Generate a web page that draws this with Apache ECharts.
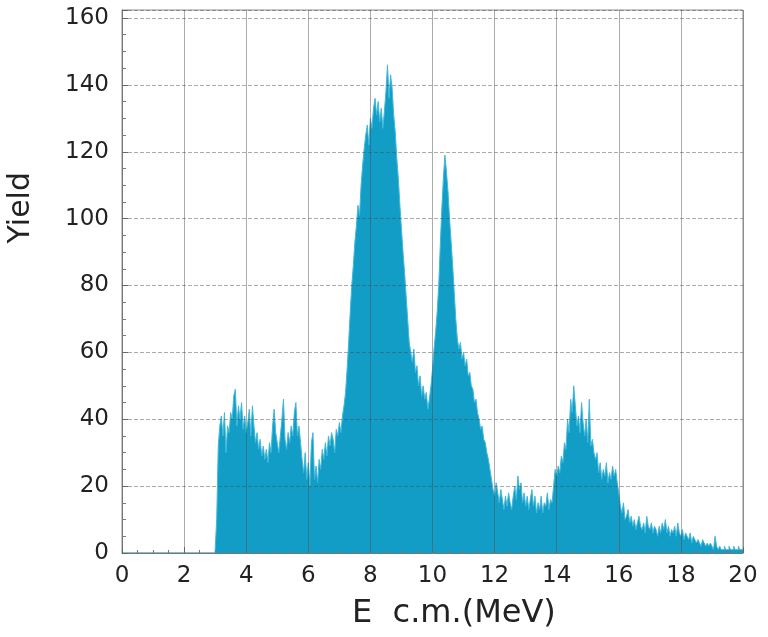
<!DOCTYPE html>
<html>
<head>
<meta charset="utf-8">
<script src="https://cdn.jsdelivr.net/npm/echarts@6/dist/echarts.min.js"></script>
<style>
  html, body { margin: 0; padding: 0; background: #ffffff; }
  #chart { width: 768px; height: 637px; }
</style>
</head>
<body>
<div id="chart"></div>
<script>
// Energy spectrum, 0.05 MeV bins from 0 to 20 MeV (400 bins).
const BIN_WIDTH = 0.05;
const X_MIN = 0, X_MAX = 20;
const xTicks = [0, 2, 4, 6, 8, 10, 12, 14, 16, 18, 20];
const yTicks = [0, 20, 40, 60, 80, 100, 120, 140, 160];

// Counts per bin, grouped by 1 MeV (20 bins per row)
const counts0to3 = [
  0,0,0,0,0,0,0,0,0,0, 0,0,0,0,0,0,0,0,0,0,
  0,0,0,0,0,0,0,0,0,0, 0,0,0,0,0,0,0,0,0,0,
  0,0,0,0,0,0,0,0,0,0, 0,0,0,0,0,0,0,0,0,0
];
const counts3to4 = [1,10,32,38,41,35,42,30,38,36, 42,40,47,49,38,44,40,45,37,41];
const counts4to5 = [36,39,43,35,44,38,33,36,31,34, 29,32,28,31,27,33,30,38,43,36];
const counts5to6 = [33,30,35,40,46,34,31,36,33,38, 35,42,45,35,38,33,28,24,30,22];
const counts6to7 = [27,20,33,36,22,26,21,28,25,31, 28,33,29,35,32,36,34,30,37,35];
const counts7to8 = [39,36,41,44,48,55,63,72,80,86, 93,98,104,101,110,116,121,125,128,122];
const counts8to9 = [130,127,133,136,131,135,129,133,127,132, 138,146,136,143,139,131,126,118,112,104];
const counts9to10 = [97,90,84,77,70,63,60,57,61,54, 56,50,53,47,50,46,48,43,46,50];
const counts10to11 = [55,61,66,72,80,92,103,112,119,114, 108,100,93,86,78,70,64,61,63,58];
const counts11to12 = [60,56,58,53,54,50,49,45,46,42, 40,37,38,34,33,30,28,25,22,19];
const counts12to13 = [17,21,18,15,19,16,13,17,14,18, 15,13,17,20,16,23,19,21,15,18];
const counts13to14 = [14,17,13,16,19,14,17,12,15,13, 17,12,15,14,18,13,16,15,20,25];
const counts14to15 = [23,26,24,29,27,33,31,40,36,46, 42,50,44,38,41,36,45,39,35,40];
const counts15to16 = [33,46,32,34,30,28,30,24,27,22, 25,23,27,21,24,22,26,23,25,21];
const counts16to17 = [18,14,12,15,10,11,13,9,11,8, 10,7,9,11,8,7,9,6,11,8];
const counts17to18 = [7,9,6,8,7,5,8,6,9,7, 10,6,8,5,7,6,8,5,9,6];
const counts18to19 = [5,7,4,6,5,4,6,3,5,4, 3,4,3,2,4,3,2,3,2,3];
const counts19to20 = [2,1,5,2,1,2,1,1,2,1, 1,2,1,1,2,1,1,2,1,1];

const counts = [].concat(
  counts0to3, counts3to4, counts4to5, counts5to6, counts6to7,
  counts7to8, counts8to9, counts9to10, counts10to11, counts11to12,
  counts12to13, counts13to14, counts14to15, counts15to16, counts16to17,
  counts17to18, counts18to19, counts19to20
);

// Step outline: each bin starts at its left edge and holds until the next edge
const stepData = counts.map((c, i) => [+(i * BIN_WIDTH).toFixed(2), c]);
stepData.push([X_MAX, counts[counts.length - 1]]);

const chart = echarts.init(document.getElementById('chart'), null, { renderer: 'canvas' });

const gridColor = 'rgba(70,70,70,0.45)';
const labelFont = 'DejaVu Sans';

chart.setOption({
  animation: false,
  backgroundColor: '#ffffff',
  grid: {
    left: 122, right: 25, top: 10, bottom: 84,
    show: true, borderColor: '#8c8c8c', borderWidth: 1
  },
  xAxis: {
    type: 'value', min: X_MIN, max: X_MAX, interval: 2, z: 5,
    axisLine: { show: true, lineStyle: { color: '#777', width: 1 } },
    axisTick: { show: true, inside: true, length: 6, lineStyle: { color: '#666' } },
    minorTick: { show: true, splitNumber: 4, length: 3, lineStyle: { color: '#777' } },
    splitLine: { show: true, lineStyle: { color: gridColor, width: 1 } },
    axisLabel: {
      color: '#222', fontFamily: labelFont, fontSize: 23, margin: 12,
      formatter: v => (xTicks.indexOf(v) >= 0 ? String(v) : '')
    }
  },
  yAxis: {
    type: 'value', min: 0, max: 162.4, interval: 20, z: 5,
    axisLine: { show: true, lineStyle: { color: '#777', width: 1 } },
    axisTick: { show: true, inside: true, length: 6, lineStyle: { color: '#666' } },
    minorTick: { show: true, splitNumber: 4, length: 4, lineStyle: { color: '#777' } },
    splitLine: { show: true, lineStyle: { color: gridColor, width: 1, type: [4, 2] } },
    axisLabel: {
      color: '#222', fontFamily: labelFont, fontSize: 23, margin: 13,
      showMaxLabel: false,
      formatter: v => (yTicks.indexOf(v) >= 0 ? String(v) : '')
    }
  },
  series: [{
    type: 'line',
    step: 'end',
    data: stepData,
    symbol: 'none',
    z: 2,
    lineStyle: { color: '#40b8da', width: 1 },
    areaStyle: { color: '#119dc6', opacity: 1 }
  }],
  graphic: [
    {
      type: 'text', left: 6, top: 172, rotation: Math.PI / 2,
      style: { text: 'Yield', fontFamily: labelFont, fontSize: 30, fill: '#222' },
      originX: 0, originY: 0
    },
    {
      type: 'text', left: 352, top: 598,
      style: { text: 'E  c.m.(MeV)', fontFamily: labelFont, fontSize: 32, fill: '#222' }
    }
  ]
});
</script>
</body>
</html>
